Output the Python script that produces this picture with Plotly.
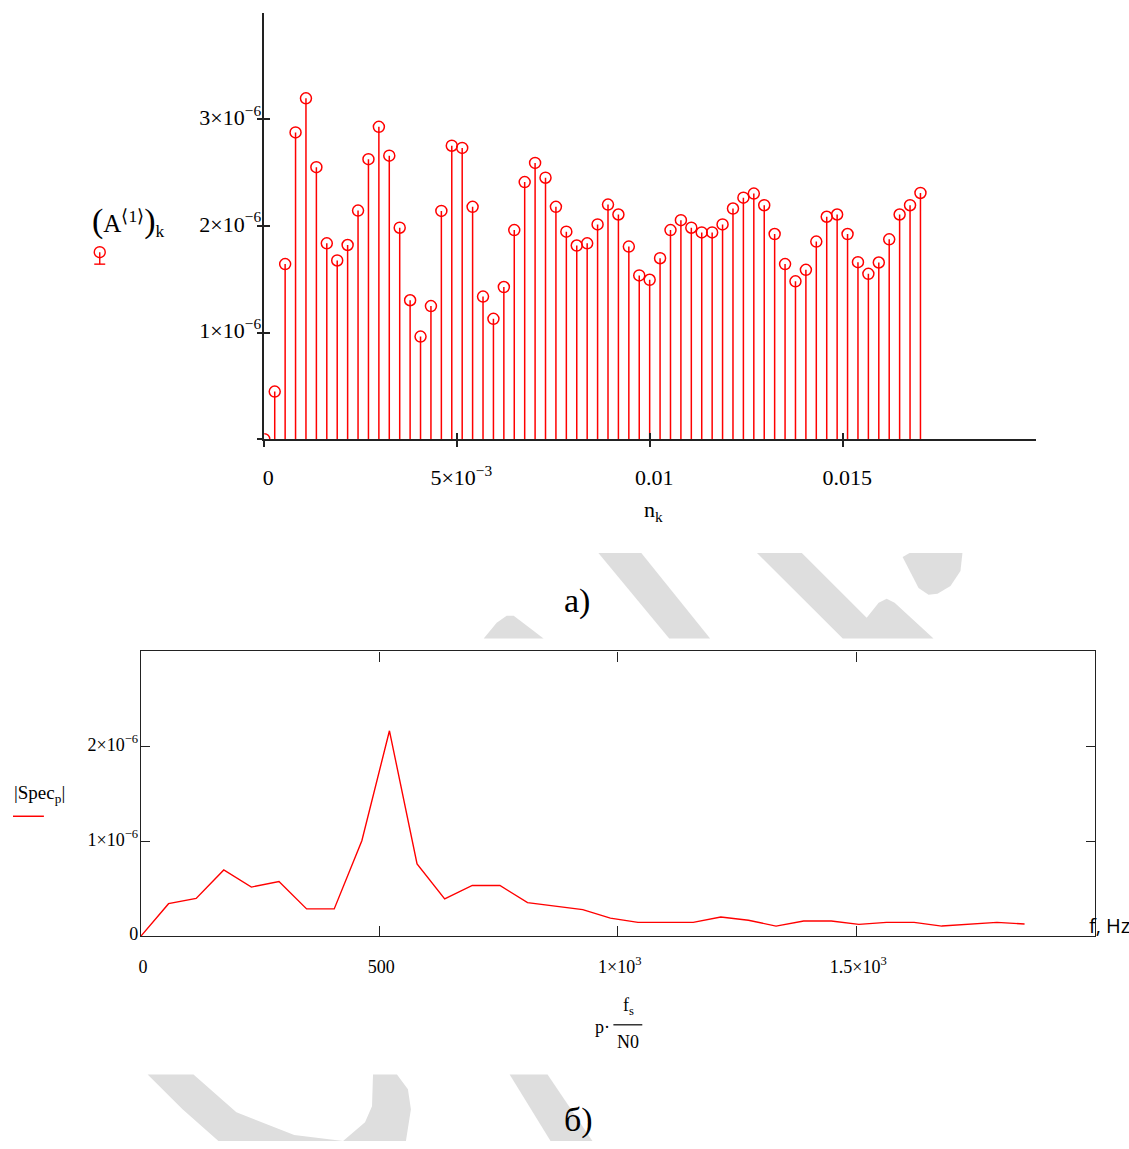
import plotly.graph_objects as go

W, H = 1129, 1149

# ---------------- data ----------------
# top chart: amplitude samples (A<1>)_k, in units of 1e-6
amp_e6 = [0.0, 0.447, 1.642, 2.877, 3.196, 2.551, 1.837, 1.676, 1.821, 2.144,
          2.626, 2.929, 2.659, 1.983, 1.303, 0.962, 1.248, 2.141, 2.752, 2.731,
          2.179, 1.337, 1.129, 1.427, 1.961, 2.411, 2.591, 2.452, 2.179, 1.946,
          1.816, 1.837, 2.014, 2.200, 2.107, 1.806, 1.536, 1.495, 1.697, 1.961,
          2.054, 1.983, 1.939, 1.939, 2.014, 2.163, 2.265, 2.303, 2.194, 1.924,
          1.642, 1.480, 1.588, 1.853, 2.086, 2.107, 1.924, 1.660, 1.551, 1.657,
          1.874, 2.107, 2.194, 2.309]
N0 = len(amp_e6)            # 64 samples
t_end = 0.017               # last sample time n_k
dt = t_end / (N0 - 1)       # sampling step
n_k = [k * dt for k in range(N0)]
A_k = [v * 1e-6 for v in amp_e6]

# bottom chart: |Spec_p|, in units of 1e-6, p = 0..N0/2
spec_e6 = [0.0, 0.342, 0.398, 0.698, 0.517, 0.576, 0.287, 0.287, 1.005, 2.164,
           0.761, 0.392, 0.534, 0.534, 0.353, 0.314, 0.280, 0.190, 0.145, 0.145,
           0.145, 0.202, 0.167, 0.106, 0.159, 0.159, 0.124, 0.145, 0.145, 0.106,
           0.128, 0.145, 0.128]
fs = 1.0 / dt
freq = [p * fs / N0 for p in range(len(spec_e6))]
spec = [v * 1e-6 for v in spec_e6]

top_xticks = [0, 0.005, 0.01, 0.015]
top_xtext = ["0", "5×10<sup>−3</sup>", "0.01", "0.015"]
top_yticks = [0, 1e-6, 2e-6, 3e-6]
top_ytext = ["", "1×10<sup>−6</sup>", "2×10<sup>−6</sup>", "3×10<sup>−6</sup>"]
bot_xticks = [0, 500, 1000, 1500]
bot_xtext = ["0", "500", "1×10<sup>3</sup>", "1.5×10<sup>3</sup>"]
bot_yticks = [0, 1e-6, 2e-6]
bot_ytext = ["0", "1×10<sup>−6</sup>", "2×10<sup>−6</sup>"]

# ---------------- helpers ----------------
def px(x):
    return x / W

def py(y):
    return 1 - y / H

RED = "#ff0000"
AX = "#222222"
SERIF = "Liberation Serif, Times New Roman, serif"

fig = go.Figure()

# stems
sx, sy = [], []
for x, a in zip(n_k, A_k):
    sx += [x, x, None]
    sy += [0, a, None]
fig.add_trace(go.Scatter(x=sx, y=sy, mode="lines", line=dict(color=RED, width=1.5),
                         xaxis="x", yaxis="y", hoverinfo="skip", showlegend=False))
fig.add_trace(go.Scatter(x=n_k, y=A_k, mode="markers",
                         marker=dict(symbol="circle-open", size=11, color=RED,
                                     line=dict(width=1.5, color=RED)),
                         xaxis="x", yaxis="y", showlegend=False))
# dummy trace for the overlay axes that draw the crossed ticks
fig.add_trace(go.Scatter(x=[None], y=[None], xaxis="x3", yaxis="y3",
                         showlegend=False, hoverinfo="skip"))

# spectrum
fig.add_trace(go.Scatter(x=freq, y=spec, mode="lines", line=dict(color=RED, width=1.4),
                         xaxis="x2", yaxis="y2", showlegend=False))

tick_font_top = dict(family=SERIF, size=22, color="#000")
tick_font_bot = dict(family=SERIF, size=18, color="#000")

top_xdom = [px(262), px(1036)]
top_ydom = [py(442.3), py(12.7)]
bot_xdom = [px(138.3), px(1094.6)]
bot_ydom = [py(942.7), py(656)]

fig.update_layout(
    width=W, height=H, margin=dict(l=0, r=0, t=0, b=0),
    paper_bgcolor="white", plot_bgcolor="rgba(0,0,0,0)",
    showlegend=False,
    xaxis=dict(domain=top_xdom, range=[0, 0.02], anchor="y",
               showline=True, linecolor=AX, linewidth=1.5, showgrid=False, zeroline=False,
               ticks="outside", ticklen=6, tickwidth=1.5, tickcolor=AX,
               tickmode="array", tickvals=top_xticks, ticktext=top_xtext,
               tickfont=tick_font_top, ticklabelstandoff=12, ticklabelshift=4),
    yaxis=dict(domain=top_ydom, range=[0, 4e-6], anchor="x",
               showline=True, linecolor=AX, linewidth=1.5, showgrid=False, zeroline=False,
               ticks="outside", ticklen=6, tickwidth=1.5, tickcolor=AX,
               tickmode="array", tickvals=top_yticks, ticktext=top_ytext,
               tickfont=tick_font_top, ticklabelstandoff=-9, ticklabelshift=-2),
    xaxis3=dict(overlaying="x", anchor="y", range=[0, 0.02], showline=False,
                showgrid=False, zeroline=False, ticks="inside", ticklen=6, tickwidth=1.5,
                tickcolor=AX, tickmode="array", tickvals=top_xticks, showticklabels=False),
    yaxis3=dict(overlaying="y", anchor="x", range=[0, 4e-6], showline=False,
                showgrid=False, zeroline=False, ticks="inside", ticklen=6, tickwidth=1.5,
                tickcolor=AX, tickmode="array", tickvals=top_yticks, showticklabels=False),
    xaxis2=dict(domain=bot_xdom, range=[0, 2000], anchor="y2",
                showline=True, mirror="ticks", linecolor=AX, linewidth=1.3,
                showgrid=False, zeroline=False,
                ticks="inside", ticklen=10, tickwidth=1.3, tickcolor=AX,
                tickmode="array", tickvals=bot_xticks, ticktext=bot_xtext,
                tickfont=tick_font_bot, ticklabelstandoff=14, ticklabelshift=2),
    yaxis2=dict(domain=bot_ydom, range=[0, 3e-6], anchor="x2",
                showline=True, mirror="ticks", linecolor=AX, linewidth=1.3,
                showgrid=False, zeroline=False,
                ticks="inside", ticklen=9, tickwidth=1.3, tickcolor=AX,
                tickmode="array", tickvals=bot_yticks, ticktext=bot_ytext,
                tickfont=tick_font_bot, ticklabelstandoff=-2, ticklabelshift=-2),
)

# ---------------- annotations ----------------
def ann(text, x, y, size, family=SERIF, xanchor="center", yanchor="middle", color="#000"):
    fig.add_annotation(text=text, x=px(x), y=py(y), xref="paper", yref="paper",
                       showarrow=False, xanchor=xanchor, yanchor=yanchor,
                       font=dict(family=family, size=size, color=color))

ann("<span style='font-size:34px'>(</span>A<sup>⟨1⟩</sup><span style='font-size:34px'>)</span><sub>k</sub>",
    125, 223, 25)
ann("n<sub>k</sub>", 652, 515, 22)
ann("|Spec<sub>p</sub>|", 37, 800, 19)
ann("f<sub>s</sub>", 627, 1014, 18)
ann("N0", 627, 1049, 18)
ann("p·", 601, 1034, 18)
ann("f, Hz", 1087, 932, 20, family="Open Sans, Noto Sans, sans-serif", xanchor="left")
ann("а)", 576, 605, 34)
ann("б)", 577, 1128, 34)

# ---------------- decorative shapes ----------------
shapes = []
# legend symbol (top chart)
shapes.append(dict(type="circle", xref="paper", yref="paper",
                   x0=px(91.5), x1=px(102.5), y0=py(259.5), y1=py(248.5),
                   line=dict(color=RED, width=1.4)))
shapes.append(dict(type="line", xref="paper", yref="paper",
                   x0=px(97), x1=px(97), y0=py(254), y1=py(266), line=dict(color=RED, width=1.4)))
shapes.append(dict(type="line", xref="paper", yref="paper",
                   x0=px(91.5), x1=px(102.5), y0=py(266), y1=py(266), line=dict(color=RED, width=1.4)))
# legend line (bottom chart)
shapes.append(dict(type="line", xref="paper", yref="paper",
                   x0=px(10), x1=px(41), y0=py(822), y1=py(822), line=dict(color=RED, width=1.5)))
# fraction bar of the x title
shapes.append(dict(type="line", xref="paper", yref="paper",
                   x0=px(612), x1=px(641), y0=py(1032), y1=py(1032), line=dict(color="#000", width=1.2)))

# watermark polygons (light grey, pixel coords of the page)
watermark = [
    [(482, 643), (495, 627), (505, 620), (512, 620), (520, 626), (542, 643)],
    [(597, 557), (640, 557), (709, 643), (668, 643)],
    [(756, 557), (801, 557), (866, 622), (878, 607), (886, 603), (894, 607), (933, 643), (842, 643)],
    [(902, 561), (909, 557), (962, 557), (960, 575), (950, 590), (937, 598), (928, 599), (918, 592)],
    [(145, 1082), (191, 1082), (234, 1120), (292, 1143), (341, 1149), (363, 1130), (370, 1114),
     (371, 1082), (395, 1082), (406, 1097), (409, 1117), (404, 1149), (216, 1149), (180, 1117)],
    [(508, 1082), (546, 1082), (591, 1149), (549, 1149)],
]
for poly in watermark:
    path = "M " + " L ".join(f"{px(x):.5f},{py(y):.5f}" for x, y in poly) + " Z"
    shapes.append(dict(type="path", xref="paper", yref="paper", path=path,
                       fillcolor="#dedede", line=dict(width=0), layer="below"))

fig.update_layout(shapes=shapes)

fig.write_html(
    "out.html", config={"displayModeBar": False},
    post_script=(
        "document.body.style.margin='0';"
        "document.body.style.lineHeight='0';"
        "document.documentElement.style.overflow='hidden';"
        "document.body.style.overflow='hidden';"
        "document.querySelectorAll('svg.main-svg').forEach(function(s){s.style.display='block';});"
    ),
)
